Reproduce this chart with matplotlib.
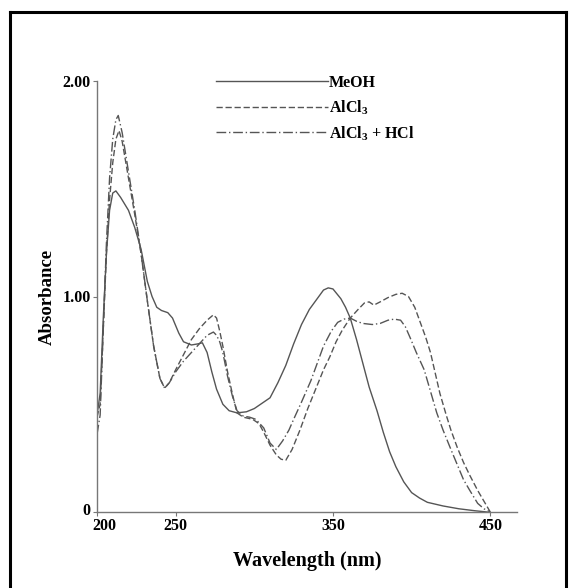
import matplotlib
matplotlib.use("Agg")
import matplotlib.pyplot as plt
from matplotlib.lines import Line2D
from matplotlib.transforms import ScaledTranslation

plt.rcParams['font.family'] = ['Liberation Serif', 'DejaVu Serif']
plt.rcParams['font.weight'] = 'bold'
plt.rcParams['mathtext.fontset'] = 'custom'
plt.rcParams['mathtext.rm'] = 'Liberation Serif:bold'
plt.rcParams['mathtext.bf'] = 'Liberation Serif:bold'
plt.rcParams['lines.scale_dashes'] = False

# UV spectra (wavelength nm, absorbance)
meoh_nm = [200, 202, 204, 206, 208, 210, 212, 215, 220, 224, 228, 232, 235, 238,
           241, 245, 248, 252, 255, 260, 264, 267, 270, 273, 276, 280, 284, 289,
           295, 300, 305, 310, 315, 320, 325, 330, 335, 340, 344, 347, 350, 355,
           358, 361, 365, 369, 373, 378, 382, 386, 390, 395, 400, 405, 410, 420,
           430, 440, 448]
meoh_abs = [0.45, 0.55, 0.90, 1.20, 1.40, 1.48, 1.49, 1.46, 1.40, 1.32, 1.22, 1.07,
            1.00, 0.95, 0.935, 0.925, 0.90, 0.83, 0.79, 0.775, 0.78, 0.785, 0.74,
            0.65, 0.57, 0.50, 0.47, 0.46, 0.465, 0.48, 0.505, 0.53, 0.60, 0.68,
            0.78, 0.87, 0.94, 0.99, 1.03, 1.04, 1.035, 0.99, 0.95, 0.90, 0.80,
            0.69, 0.58, 0.47, 0.37, 0.28, 0.21, 0.14, 0.09, 0.065, 0.045, 0.028,
            0.015, 0.006, 0.0]

alcl3_nm = [200, 202, 204, 206, 208, 210, 212, 214, 216, 220, 224, 228, 232, 236,
            240, 243, 246, 250, 255, 260, 265, 270, 274, 276, 278, 280, 283, 286,
            289, 293, 299, 303, 306, 310, 314, 317, 320, 324, 329, 334, 339, 344,
            348, 352, 356, 361, 366, 370, 373, 376, 380, 385, 390, 394, 398, 402,
            405, 409, 412, 415, 418, 422, 425, 429, 433, 437, 442, 446, 450]
alcl3_abs = [0.44, 0.50, 0.85, 1.20, 1.45, 1.62, 1.73, 1.77, 1.72, 1.55, 1.38, 1.20,
             0.98, 0.77, 0.62, 0.575, 0.60, 0.66, 0.73, 0.80, 0.85, 0.89, 0.915,
             0.90, 0.84, 0.77, 0.65, 0.55, 0.46, 0.44, 0.43, 0.41, 0.37, 0.31,
             0.265, 0.245, 0.24, 0.29, 0.38, 0.48, 0.57, 0.66, 0.72, 0.79, 0.845,
             0.90, 0.94, 0.97, 0.975, 0.96, 0.975, 0.995, 1.01, 1.015, 1.00, 0.95,
             0.89, 0.81, 0.74, 0.645, 0.55, 0.45, 0.38, 0.30, 0.23, 0.17, 0.10,
             0.05, 0.0]

hcl_nm = [200, 202, 204, 206, 208, 210, 212, 213.5, 216, 220, 224, 228, 232, 236,
          240, 243, 246, 250, 255, 260, 265, 270, 274, 276, 278, 280, 283, 286,
          289, 293, 297, 301, 306, 310, 314, 318, 322, 325, 330, 336, 340, 344,
          349, 353, 357, 361, 365, 369, 375, 380, 385, 389, 393, 396, 399, 403,
          408, 412, 416, 420, 425, 429, 433, 437, 442, 446, 450]
hcl_abs = [0.36, 0.45, 0.85, 1.25, 1.55, 1.73, 1.82, 1.84, 1.76, 1.58, 1.40, 1.20,
           0.98, 0.77, 0.62, 0.575, 0.60, 0.65, 0.70, 0.74, 0.78, 0.82, 0.835,
           0.82, 0.79, 0.74, 0.63, 0.54, 0.47, 0.445, 0.44, 0.43, 0.39, 0.32,
           0.29, 0.33, 0.38, 0.43, 0.51, 0.61, 0.69, 0.77, 0.84, 0.88, 0.895,
           0.90, 0.885, 0.875, 0.87, 0.875, 0.89, 0.895, 0.89, 0.86, 0.81, 0.74,
           0.66, 0.56, 0.46, 0.38, 0.29, 0.22, 0.15, 0.10, 0.04, 0.015, 0.0]

labels = ['MeOH', r'AlCl$_3$', r'AlCl$_3$ + HCl']
x_ticks = [200, 250, 350, 450]
y_ticks = [0, 1.0, 2.0]
y_ticklabels = ['0', '1.00', '2.00']

W, H = 569, 588
fig = plt.figure(figsize=(W / 100, H / 100), dpi=100)
ax = fig.add_axes([97 / W, 1 - 512 / H, (517 - 97) / W, (512 - 81) / H])

line_col = '#555555'
ax.plot(meoh_nm, meoh_abs, color=line_col, lw=1.0, label=labels[0])
ax.plot(alcl3_nm, alcl3_abs, color=line_col, lw=1.0, dashes=(4.5, 2), label=labels[1])
ax.plot(hcl_nm, hcl_abs, color=line_col, lw=1.0, dashes=(7, 2, 1, 2), label=labels[2])

ax.set_xlim(200, 467)
ax.set_ylim(0, 2.0)
ax.spines['top'].set_visible(False)
ax.spines['right'].set_visible(False)
for s in ['left', 'bottom']:
    ax.spines[s].set_color('#777777')
    ax.spines[s].set_linewidth(1.0)

ax.set_xticks(x_ticks)
ax.set_xticklabels([str(t) for t in x_ticks], fontsize=11.5, fontweight='bold')
ax.set_yticks(y_ticks)
ax.set_yticklabels(y_ticklabels, fontsize=11.5, fontweight='bold')
ax.tick_params(axis='both', length=3, width=0.8, color='#777777', pad=1.5)
# "200" sits a little right of its tick, "0" a little low
lab0 = ax.get_xticklabels()[0]
lab0.set_transform(lab0.get_transform() + ScaledTranslation(5 / 72, 0, fig.dpi_scale_trans))
ylab0 = ax.get_yticklabels()[0]
ylab0.set_transform(ylab0.get_transform() + ScaledTranslation(0, 2 / 72, fig.dpi_scale_trans))

ax.set_xlabel('Wavelength (nm)', fontsize=14.5, fontweight='bold', labelpad=12)
ax.set_ylabel('Absorbance', fontsize=13.5, fontweight='bold', labelpad=5)

ax.legend(loc='upper left', bbox_to_anchor=(216 / W, 1 - 75 / H),
          bbox_transform=fig.transFigure, frameon=False, fontsize=11.5,
          handlelength=7.0, handletextpad=0.05, labelspacing=0.45,
          borderpad=0, borderaxespad=0)

# outer frame of the picture
for xs, ys in [([10, 10], [12, H + 5]), ([10, W - 3], [12, 12]), ([W - 3, W - 3], [12, H + 5])]:
    fig.add_artist(Line2D([x / W for x in xs], [1 - y / H for y in ys],
                          transform=fig.transFigure, color='black', lw=2.2))

fig.savefig('out.png', dpi=100)
